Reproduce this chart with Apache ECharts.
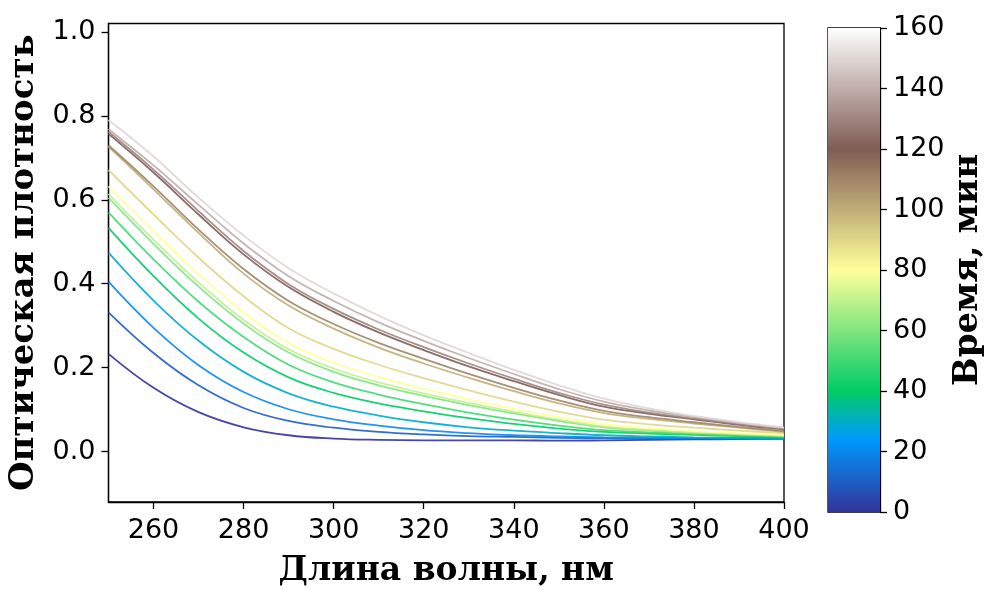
<!DOCTYPE html>
<html>
<head>
<meta charset="utf-8">
<script src="https://cdn.jsdelivr.net/npm/echarts@6/dist/echarts.min.js"></script>
<style>
  html, body { margin: 0; padding: 0; background: #fff; }
  #main { width: 989px; height: 590px; }
</style>
</head>
<body>
<div id="main"></div>
<script>
// длины волн, нм
const wavelengths = [250, 260, 270, 280, 290, 300, 310, 320, 330, 340, 350, 360, 370, 380, 390, 400];
// время, мин
const times = [0, 10, 20, 30, 40, 50, 60, 70, 80, 90, 100, 110, 120, 130, 140, 150];

// оптическая плотность для каждого момента времени
const od0   = [0.233, 0.152, 0.094, 0.058, 0.039, 0.031, 0.028, 0.027, 0.027, 0.027, 0.026, 0.027, 0.028, 0.029, 0.030, 0.031];
const od10  = [0.332, 0.235, 0.158, 0.104, 0.073, 0.057, 0.047, 0.041, 0.037, 0.035, 0.033, 0.032, 0.031, 0.031, 0.031, 0.031];
const od20  = [0.405, 0.295, 0.206, 0.142, 0.101, 0.077, 0.062, 0.051, 0.044, 0.039, 0.036, 0.034, 0.033, 0.032, 0.031, 0.031];
const od30  = [0.474, 0.360, 0.264, 0.190, 0.139, 0.107, 0.086, 0.070, 0.058, 0.050, 0.044, 0.039, 0.036, 0.034, 0.033, 0.032];
const od40  = [0.533, 0.418, 0.317, 0.236, 0.177, 0.140, 0.115, 0.096, 0.080, 0.066, 0.055, 0.047, 0.043, 0.040, 0.037, 0.035];
const od50  = [0.570, 0.458, 0.357, 0.273, 0.207, 0.165, 0.136, 0.113, 0.093, 0.076, 0.062, 0.051, 0.046, 0.042, 0.039, 0.036];
const od60  = [0.605, 0.495, 0.393, 0.305, 0.236, 0.190, 0.158, 0.133, 0.111, 0.091, 0.073, 0.058, 0.050, 0.045, 0.041, 0.037];
const od70  = [0.614, 0.505, 0.403, 0.314, 0.244, 0.198, 0.165, 0.139, 0.116, 0.095, 0.076, 0.060, 0.052, 0.046, 0.042, 0.038];
const od80  = [0.632, 0.525, 0.423, 0.332, 0.259, 0.212, 0.178, 0.150, 0.125, 0.102, 0.082, 0.065, 0.056, 0.049, 0.044, 0.040];
const od90  = [0.671, 0.565, 0.462, 0.370, 0.294, 0.245, 0.207, 0.175, 0.146, 0.119, 0.095, 0.076, 0.065, 0.057, 0.050, 0.044];
const od100 = [0.727, 0.625, 0.521, 0.424, 0.348, 0.293, 0.248, 0.210, 0.176, 0.144, 0.115, 0.092, 0.078, 0.067, 0.057, 0.047];
const od110 = [0.730, 0.632, 0.529, 0.435, 0.359, 0.304, 0.259, 0.221, 0.185, 0.152, 0.122, 0.097, 0.082, 0.070, 0.059, 0.049];
const od120 = [0.757, 0.665, 0.565, 0.470, 0.392, 0.333, 0.284, 0.242, 0.203, 0.168, 0.135, 0.107, 0.090, 0.077, 0.064, 0.053];
const od130 = [0.762, 0.672, 0.573, 0.478, 0.399, 0.340, 0.291, 0.249, 0.210, 0.174, 0.140, 0.112, 0.093, 0.079, 0.066, 0.054];
const od140 = [0.768, 0.682, 0.588, 0.496, 0.418, 0.359, 0.308, 0.264, 0.223, 0.185, 0.149, 0.119, 0.098, 0.082, 0.068, 0.056];
const od150 = [0.790, 0.703, 0.605, 0.515, 0.437, 0.377, 0.324, 0.277, 0.235, 0.195, 0.158, 0.126, 0.103, 0.085, 0.070, 0.058];
const spectra = [od0, od10, od20, od30, od40, od50, od60, od70, od80, od90, od100, od110, od120, od130, od140, od150];

const xTicks = [260, 280, 300, 320, 340, 360, 380, 400];
const yTicks = [0, 0.2, 0.4, 0.6, 0.8, 1.0];
const tMin = 0, tMax = 160;

// палитра terrain (как в matplotlib)
const terrain = [
  [0.00, [0.2, 0.2, 0.6]],
  [0.15, [0.0, 0.6, 1.0]],
  [0.25, [0.0, 0.8, 0.4]],
  [0.50, [1.0, 1.0, 0.6]],
  [0.75, [0.5, 0.36, 0.33]],
  [1.00, [1.0, 1.0, 1.0]]
];
function terrainColor(f) {
  for (let i = 1; i < terrain.length; i++) {
    if (f <= terrain[i][0]) {
      const [f0, c0] = terrain[i - 1];
      const [f1, c1] = terrain[i];
      const k = (f - f0) / (f1 - f0);
      const c = c0.map((v, j) => Math.round((v + (c1[j] - v) * k) * 255));
      return 'rgb(' + c.join(',') + ')';
    }
  }
  return 'rgb(255,255,255)';
}

const tickFont = { fontFamily: 'DejaVu Sans', fontSize: 27, color: '#000' };
const nameFont = { fontFamily: 'DejaVu Serif', fontWeight: 'bold', fontSize: 34, color: '#000' };

const series = spectra.map((vals, i) => ({
  type: 'line',
  xAxisIndex: 0,
  yAxisIndex: 0,
  data: wavelengths.map((w, j) => [w, vals[j]]),
  smooth: 0.4,
  showSymbol: false,
  lineStyle: { width: 1.8, color: terrainColor((times[i] - tMin) / (tMax - tMin)), opacity: 0.9 },
  z: 2 + i
}));

// цветовая шкала
series.push({
  type: 'bar',
  xAxisIndex: 1,
  yAxisIndex: 1,
  data: [tMax],
  barWidth: '100%',
  silent: true,
  itemStyle: {
    color: new echarts.graphic.LinearGradient(0, 1, 0, 0,
      terrain.map(s => ({ offset: s[0], color: terrainColor(s[0]) })))
  }
});

const chart = echarts.init(document.getElementById('main'), null, { renderer: 'canvas' });
chart.setOption({
  animation: false,
  backgroundColor: '#fff',
  grid: [
    { left: 108.5, right: 205, top: 23.5, bottom: 88, show: true, borderColor: '#000', borderWidth: 1.3,
      backgroundColor: 'transparent', containLabel: false, outerBoundsMode: 'none' },
    { left: 828, width: 52, top: 28, bottom: 78, show: true, borderColor: '#000', borderWidth: 1.3,
      backgroundColor: 'transparent', containLabel: false, outerBoundsMode: 'none' }
  ],
  xAxis: [
    {
      gridIndex: 0, type: 'value', min: 250, max: 400,
      name: 'Длина волны, нм', nameLocation: 'middle', nameGap: 53,
      nameTextStyle: Object.assign({}, nameFont, { fontSize: 33 }),
      axisLine: { show: true, onZero: false, lineStyle: { color: '#000', width: 1.3 } },
      axisTick: { show: true, inside: false, length: 7, lineStyle: { color: '#000', width: 1.3 }, customValues: xTicks },
      axisLabel: Object.assign({ margin: 15, customValues: xTicks }, tickFont),
      splitLine: { show: false }
    },
    {
      gridIndex: 1, type: 'category', data: [''],
      axisLine: { show: false }, axisTick: { show: false }, axisLabel: { show: false }
    }
  ],
  yAxis: [
    {
      gridIndex: 0, type: 'value', min: -0.12, max: 1.02,
      name: 'Оптическая плотность', nameLocation: 'middle', nameGap: 64, nameTextStyle: nameFont,
      axisLine: { show: true, onZero: false, lineStyle: { color: '#000', width: 1.3 } },
      axisTick: { show: true, inside: false, length: 7, lineStyle: { color: '#000', width: 1.3 }, customValues: yTicks },
      axisLabel: Object.assign({ margin: 13, customValues: yTicks, formatter: v => v.toFixed(1) }, tickFont),
      splitLine: { show: false }
    },
    {
      gridIndex: 1, type: 'value', min: 0, max: 160, interval: 20, position: 'right',
      name: 'Время, мин', nameLocation: 'middle', nameGap: 71, nameRotate: 90, nameTextStyle: nameFont,
      axisLine: { show: true, lineStyle: { color: '#000', width: 1.3 } },
      axisTick: { show: true, inside: false, length: 7, lineStyle: { color: '#000', width: 1.3 } },
      axisLabel: Object.assign({ margin: 13 }, tickFont),
      splitLine: { show: false }
    }
  ],
  series: series
});
</script>
</body>
</html>
